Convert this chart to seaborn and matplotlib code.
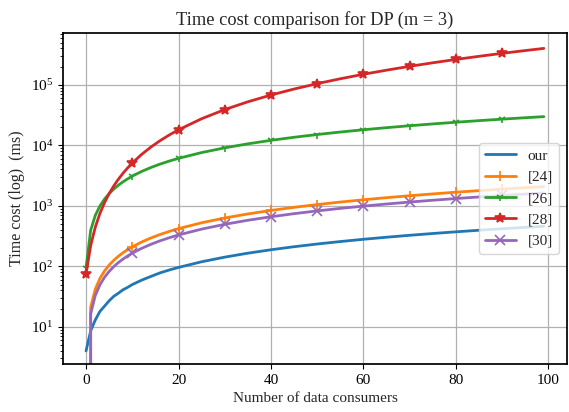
import numpy as np
import pandas as pd
import matplotlib
matplotlib.use("Agg")
import matplotlib.pyplot as plt
import seaborn as sns

sns.set_theme(style="ticks", palette="tab10")
plt.rcParams['font.family'] = ['Liberation Serif', 'DejaVu Serif']
plt.rcParams['mathtext.fontset'] = 'stix'

### 数据
n_consumers = [0, 1, 2, 3, 4, 5, 6, 7, 8, 9, 10, 12, 14, 16, 18, 20, 25, 30,
               35, 40, 45, 50, 55, 60, 65, 70, 75, 80, 85, 90, 95, 99]
cost_our = [4, 8.6, 13, 18, 22, 27, 32, 36, 41, 45, 50, 59, 68, 78, 87, 96, 119,
            142, 165, 188, 211, 234, 257, 280, 303, 326, 349, 372, 395, 418,
            441, 459]
cost_24 = [0, 21, 42, 63, 84, 105, 126, 147, 168, 189, 210, 252, 294, 336, 378,
           420, 525, 630, 735, 840, 945, 1050, 1155, 1260, 1365, 1470, 1575,
           1680, 1785, 1890, 1995, 2080]
cost_26 = [95, 395, 695, 995, 1295, 1595, 1895, 2195, 2495, 2795, 3095, 3695,
           4295, 4895, 5495, 6095, 7595, 9095, 10595, 12095, 13595, 15095,
           16595, 18095, 19595, 21095, 22595, 24095, 25595, 27095, 28595, 29795]
cost_28 = [75, 220, 444, 748, 1131, 1594, 2136, 2758, 3459, 4240, 5100, 7059,
           9336, 11931, 14844, 18075, 27544, 39000, 52444, 67875, 85294, 104700,
           126094, 149475, 174844, 202200, 231544, 262875, 296194, 331500,
           368794, 400060]
cost_30 = [0, 16.5, 33, 49.5, 66, 82.5, 99, 115.5, 132, 148.5, 165, 198, 231,
           264, 297, 330, 412.5, 495, 577.5, 660, 742.5, 825, 907.5, 990,
           1072.5, 1155, 1237.5, 1320, 1402.5, 1485, 1567.5, 1633]
labels = ['our', '[24]', '[26]', '[28]', '[30]']
markers = [None, '+', '1', '*', 'x']
msizes = [0, 7, 6, 7, 7]
colors = ['#1f77b4', '#ff7f0e', '#2ca02c', '#d62728', '#9467bd']

series = [cost_our, cost_24, cost_26, cost_28, cost_30]
mark_idx = [i for i, v in enumerate(n_consumers) if v % 10 == 0]  ## 每10个一个标记

fig, ax = plt.subplots(figsize=(5.69, 4.12), dpi=100)
fig.subplots_adjust(left=0.111, right=0.996, bottom=0.117, top=0.92)

for ys, lab, mk, ms, c in zip(series, labels, markers, msizes, colors):
    kw = {}
    if mk:
        kw = dict(marker=mk, markevery=mark_idx, markersize=ms,
                  markeredgecolor=c, markerfacecolor=c, markeredgewidth=1.2)
    sns.lineplot(x=n_consumers, y=ys, ax=ax, label=lab, color=c, linewidth=2,
                 **kw)

ax.set_yscale('log')
ax.set_ylim(2.45, 7.2e5)
ax.set_xlim(-4.95, 103.95)
ax.grid(True, which='major', color='#b0b0b0', linewidth=0.9)
for s in ax.spines.values():
    s.set_color('black')
    s.set_visible(True)
ax.tick_params(which='major', labelsize=11, colors='black', length=3.5, width=0.8)
ax.tick_params(which='minor', colors='black', length=2, width=0.6)
ax.set_title('Time cost comparison for DP (m = 3)', fontsize=13.2)
ax.set_xlabel('Number of data consumers', fontsize=11)
ax.set_ylabel('Time cost (log)  (ms)', fontsize=11.5)
ax.legend(loc='center right', fontsize=11, framealpha=0.8)

fig.savefig('out.png', dpi=100)
